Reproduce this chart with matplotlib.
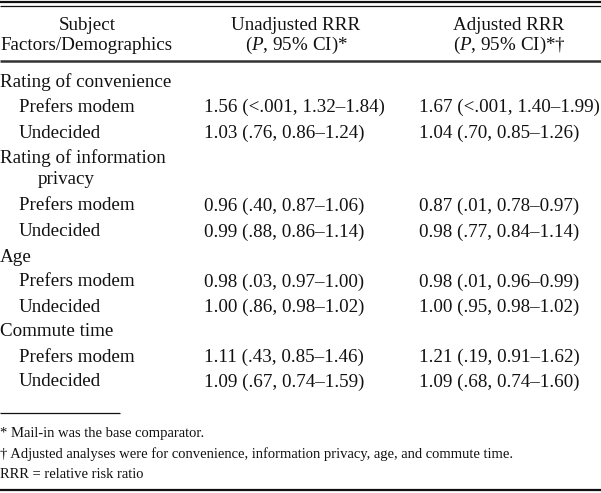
import matplotlib
matplotlib.use("Agg")
import matplotlib.pyplot as plt

plt.rcParams['font.family'] = ['Liberation Serif', 'DejaVu Serif']
plt.rcParams['mathtext.fontset'] = 'custom'
plt.rcParams['mathtext.rm'] = 'Liberation Serif'
plt.rcParams['mathtext.it'] = 'Liberation Serif:italic'

col_headers = [["Subject", "Factors/Demographics"],
               ["Unadjusted RRR", "($\\mathit{P}$, 95% CI)*"],
               ["Adjusted RRR", "($\\mathit{P}$, 95% CI)*\u2020"]]

row_labels = ["Rating of convenience", "Prefers modem", "Undecided",
              "Rating of information\nprivacy", "Prefers modem", "Undecided",
              "Age", "Prefers modem", "Undecided",
              "Commute time", "Prefers modem", "Undecided"]
row_is_group = [True, False, False, True, False, False,
                True, False, False, True, False, False]
unadjusted = ["", "1.56 (<.001, 1.32\u20131.84)", "1.03 (.76, 0.86\u20131.24)",
              "", "0.96 (.40, 0.87\u20131.06)", "0.99 (.88, 0.86\u20131.14)",
              "", "0.98 (.03, 0.97\u20131.00)", "1.00 (.86, 0.98\u20131.02)",
              "", "1.11 (.43, 0.85\u20131.46)", "1.09 (.67, 0.74\u20131.59)"]
adjusted = ["", "1.67 (<.001, 1.40\u20131.99)", "1.04 (.70, 0.85\u20131.26)",
            "", "0.87 (.01, 0.78\u20130.97)", "0.98 (.77, 0.84\u20131.14)",
            "", "0.98 (.01, 0.96\u20130.99)", "1.00 (.95, 0.98\u20131.02)",
            "", "1.21 (.19, 0.91\u20131.62)", "1.09 (.68, 0.74\u20131.60)"]
footnotes = ["* Mail-in was the base comparator.",
             "\u2020 Adjusted analyses were for convenience, information privacy, age, and commute time.",
             "RRR = relative risk ratio"]

W, H = 601, 493
fig = plt.figure(figsize=(W / 100, H / 100), dpi=100)
ax = fig.add_axes([0, 0, 1, 1])
ax.set_xlim(0, W)
ax.set_ylim(H, 0)
ax.axis('off')

fs = 13.7
col = '#111111'

# rules
ax.plot([0, W], [1.5, 1.5], color=col, lw=1.6, solid_capstyle='butt')
ax.plot([0, W], [6.0, 6.0], color=col, lw=0.9, solid_capstyle='butt')
ax.plot([0, W], [61, 61], color='#333333', lw=1.8, solid_capstyle='butt')
ax.plot([0, 120], [413, 413], color=col, lw=0.9, solid_capstyle='butt')
ax.plot([0, W], [490, 490], color=col, lw=1.6, solid_capstyle='butt')

# headers
hx = [87, 296, 509]
for x, (h1, h2) in zip(hx, col_headers):
    ax.text(x, 26, h1, ha='center', va='center', fontsize=fs, color=col)
    ax.text(x, 45, h2, ha='center', va='center', fontsize=fs, color=col)

# body rows
y_pos = [82, 107, 133, 168, 206, 232, 257, 282, 307, 332, 357, 382]
for y, lab, grp, u, a in zip(y_pos, row_labels, row_is_group, unadjusted, adjusted):
    if grp:
        if "\n" in lab:
            l1, l2 = lab.split("\n")
            ax.text(0, y - 10, l1, ha='left', va='center', fontsize=fs, color=col)
            ax.text(38, y + 11, l2, ha='left', va='center', fontsize=fs, color=col)
        else:
            ax.text(0, y, lab, ha='left', va='center', fontsize=fs, color=col)
    else:
        ax.text(19, y, lab, ha='left', va='center', fontsize=fs, color=col)
    if u:
        ax.text(204, y, u, ha='left', va='center', fontsize=fs, color=col)
    if a:
        ax.text(419, y, a, ha='left', va='center', fontsize=fs, color=col)

# footnotes
for y, t in zip([433, 454, 474], footnotes):
    ax.text(0, y, t, ha='left', va='center', fontsize=10.5, color=col)

fig.savefig("out.png", dpi=100)
